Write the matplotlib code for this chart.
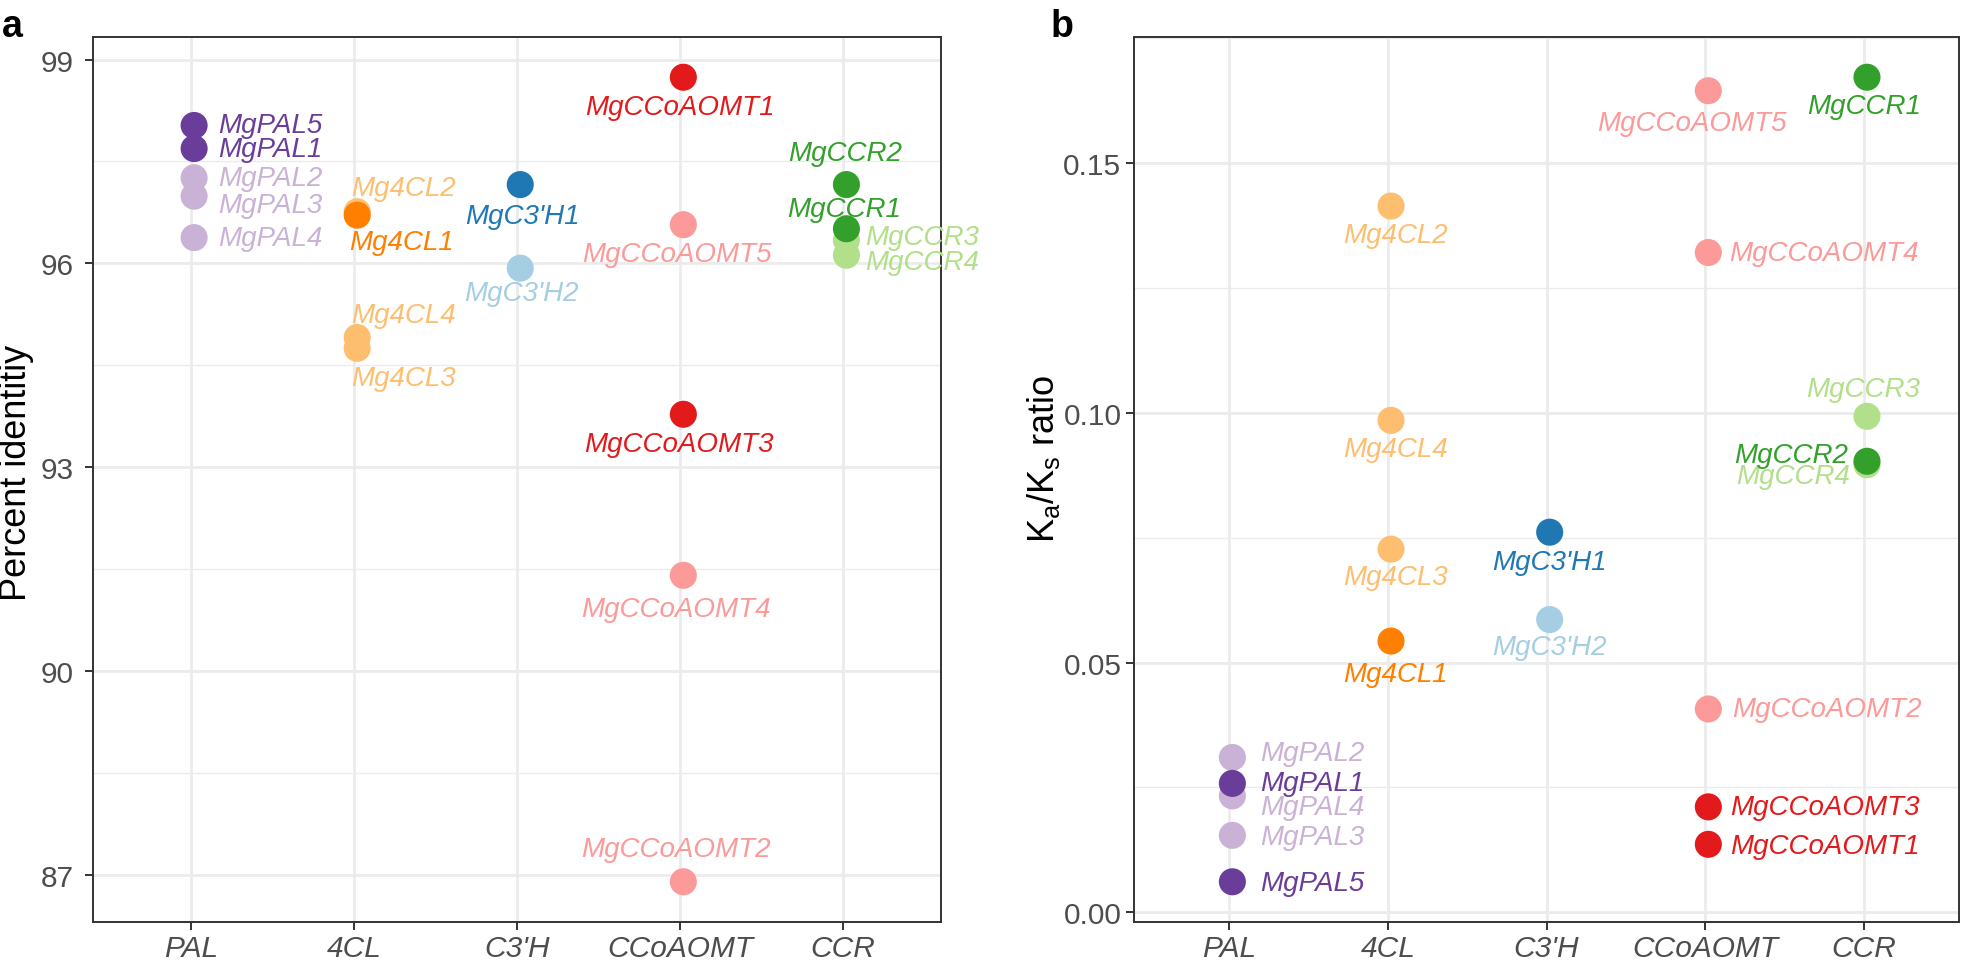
import matplotlib
matplotlib.use('Agg')
import matplotlib.pyplot as plt
from matplotlib.ticker import MultipleLocator, FormatStrFormatter

plt.rcParams['font.family'] = ['Liberation Sans', 'DejaVu Sans']
plt.rcParams['mathtext.fontset'] = 'custom'
plt.rcParams['mathtext.rm'] = 'Liberation Sans'
plt.rcParams['mathtext.it'] = 'Liberation Sans:italic'

# data
families = ['PAL', '4CL', "C3'H", 'CCoAOMT', 'CCR']
genes = ['MgPAL1', 'MgPAL2', 'MgPAL3', 'MgPAL4', 'MgPAL5',
         'Mg4CL1', 'Mg4CL2', 'Mg4CL3', 'Mg4CL4',
         "MgC3'H1", "MgC3'H2",
         'MgCCoAOMT1', 'MgCCoAOMT2', 'MgCCoAOMT3', 'MgCCoAOMT4', 'MgCCoAOMT5',
         'MgCCR1', 'MgCCR2', 'MgCCR3', 'MgCCR4']
gene_family = ['PAL'] * 5 + ['4CL'] * 4 + ["C3'H"] * 2 + ['CCoAOMT'] * 5 + ['CCR'] * 4
identity = [97.69, 97.26, 96.99, 96.38, 98.03,
            96.71, 96.76, 94.75, 94.91,
            97.16, 95.93,
            98.74, 86.90, 93.78, 91.41, 96.57,
            96.51, 97.16, 96.34, 96.12]
kaks = [0.0258, 0.0310, 0.0154, 0.0233, 0.0061,
        0.0543, 0.1414, 0.0727, 0.0985,
        0.0761, 0.0586,
        0.0136, 0.0407, 0.0211, 0.1321, 0.1645,
        0.1672, 0.0903, 0.0993, 0.0896]

# colours (ColorBrewer Paired)
dark = {'PAL': '#6A3D9A', '4CL': '#FF7F00', "C3'H": '#1F78B4', 'CCoAOMT': '#E31A1C', 'CCR': '#33A02C'}
light = {'PAL': '#CAB2D6', '4CL': '#FDBF6F', "C3'H": '#A6CEE3', 'CCoAOMT': '#FB9A99', 'CCR': '#B2DF8A'}
dark_genes = ['MgPAL1', 'MgPAL5', 'Mg4CL1', "MgC3'H1", 'MgCCoAOMT1', 'MgCCoAOMT3', 'MgCCR1', 'MgCCR2']

# label placement: (dx px, dy px down, horizontal alignment)
lab_a = {
    'MgPAL1': (24, 0, 'left'), 'MgPAL2': (24, 0, 'left'), 'MgPAL3': (24, 9, 'left'),
    'MgPAL4': (24, 0, 'left'), 'MgPAL5': (24, 0, 'left'),
    'Mg4CL1': (44, 27, 'center'), 'Mg4CL2': (46, -24, 'center'),
    'Mg4CL3': (46, 30, 'center'), 'Mg4CL4': (46, -22, 'center'),
    "MgC3'H1": (2, 31, 'center'), "MgC3'H2": (1, 25, 'center'),
    'MgCCoAOMT1': (-3, 30, 'center'), 'MgCCoAOMT2': (-7, -33, 'center'),
    'MgCCoAOMT3': (-4, 30, 'center'), 'MgCCoAOMT4': (-7, 34, 'center'),
    'MgCCoAOMT5': (-6, 29, 'center'),
    'MgCCR1': (-2, -20, 'center'), 'MgCCR2': (-1, -32, 'center'),
    'MgCCR3': (19, -3, 'left'), 'MgCCR4': (19, 7, 'left'),
}
lab_b = {
    'MgPAL1': (28, 0, 'left'), 'MgPAL2': (28, -4, 'left'), 'MgPAL3': (28, 2, 'left'),
    'MgPAL4': (28, 11, 'left'), 'MgPAL5': (28, 1, 'left'),
    'Mg4CL1': (4, 33, 'center'), 'Mg4CL2': (4, 29, 'center'),
    'Mg4CL3': (4, 28, 'center'), 'Mg4CL4': (4, 29, 'center'),
    "MgC3'H1": (0, 30, 'center'), "MgC3'H2": (0, 27, 'center'),
    'MgCCoAOMT1': (22, 2, 'left'), 'MgCCoAOMT2': (24, 0, 'left'),
    'MgCCoAOMT3': (22, 0, 'left'), 'MgCCoAOMT4': (21, 0, 'left'),
    'MgCCoAOMT5': (-16, 32, 'center'),
    'MgCCR1': (-3, 29, 'center'), 'MgCCR2': (-19, -6, 'right'),
    'MgCCR3': (-4, -27, 'center'), 'MgCCR4': (-17, 11, 'right'),
}

fig = plt.figure(figsize=(19.61, 9.62), dpi=100)
ax1 = fig.add_axes([93 / 1961, 1 - 923 / 962, 848 / 1961, 885 / 962])
ax2 = fig.add_axes([1134 / 1961, 1 - 923 / 962, 825 / 1961, 885 / 962])


def draw(ax, values, labels, major, pad):
    for g, f, v in zip(genes, gene_family, values):
        x = families.index(f) + 1 + 0.02
        is_dark = g in dark_genes
        col = dark[f] if is_dark else light[f]
        ax.scatter(x, v, s=380, color=col, edgecolors='none', zorder=4 if is_dark else 3)
        dx, dy, ha = labels[g]
        ax.annotate(g, (x, v), xytext=(dx, -dy), textcoords='offset pixels',
                    ha=ha, va='center', color=col, fontsize=20, style='italic',
                    zorder=6 if is_dark else 5)
    lo, hi = min(values), max(values)
    ex = (hi - lo) * 0.05
    ax.set_ylim(lo - ex, hi + ex)
    ax.set_xlim(0.4, 5.6)
    ax.set_xticks(range(1, 6))
    ax.set_xticklabels(families, style='italic')
    ax.yaxis.set_major_locator(MultipleLocator(major))
    ax.yaxis.set_minor_locator(MultipleLocator(major / 2))
    ax.grid(True, which='major', color='#EBEBEB', lw=2.0, zorder=0)
    ax.grid(True, which='minor', axis='y', color='#EBEBEB', lw=1.0, zorder=0)
    ax.set_axisbelow(True)
    for s in ax.spines.values():
        s.set_color('#333333')
        s.set_linewidth(1.4)
    ax.tick_params(which='major', length=6, width=1.4, color='#333333',
                   labelsize=21.5, labelcolor='#4D4D4D')
    ax.tick_params(axis='y', pad=pad)
    ax.tick_params(axis='x', pad=3)
    ax.tick_params(which='minor', length=0)


draw(ax1, identity, lab_a, 3, 8)
draw(ax2, kaks, lab_b, 0.05, 3)
ax1.yaxis.set_major_formatter(FormatStrFormatter('%d'))
ax2.yaxis.set_major_formatter(FormatStrFormatter('%.2f'))

fig.text(17 / 1961, 1 - 473 / 962, 'Percent identitiy', rotation=90,
         ha='center', va='center', fontsize=26)
fig.text(1044 / 1961, 1 - 459 / 962, r'K$_\mathrm{a}$/K$_\mathrm{s}$ ratio', rotation=90,
         ha='center', va='center', fontsize=26)
fig.text(2 / 1961, 1 - 37 / 962, 'a', fontsize=27, fontweight='bold', va='baseline')
fig.text(1051 / 1961, 1 - 37 / 962, 'b', fontsize=27, fontweight='bold', va='baseline')

fig.savefig('out.png', dpi=100)
